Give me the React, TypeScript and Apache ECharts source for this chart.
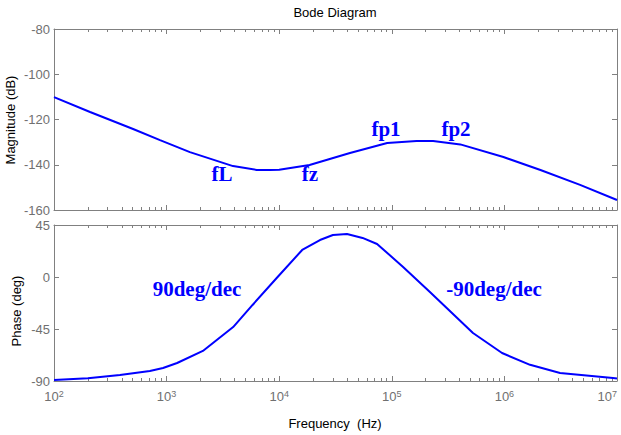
import React, { useEffect, useRef } from "react";
import * as echarts from "echarts";

// Magnitude response (frequency in Hz, magnitude in dB)
const magFreq = [100, 209, 504, 874, 1610, 3890, 6320, 8300, 10000, 18600, 42500, 91000, 166000, 233000, 406000, 980000, 2090000, 4700000, 10000000];
const magDb = [-110.1, -116.7, -124.2, -129.1, -134.4, -140.6, -142.3, -142.3, -142.2, -140.1, -134.8, -130.4, -129.5, -129.5, -131.0, -136.6, -142.3, -148.9, -155.6];

// Phase response (frequency in Hz, phase in degrees)
const phaseFreq = [100, 200, 385, 710, 930, 1240, 2100, 3900, 5800, 9500, 16000, 23000, 30000, 40000, 55000, 74000, 126000, 218000, 526000, 953000, 1690000, 3120000, 9200000, 10000000];
const phaseDeg = [-89.1, -87.7, -84.8, -81.3, -78.7, -74.4, -64, -43.3, -24.2, -0.9, 23.4, 32, 36.3, 37.2, 33.8, 28.6, 8.7, -13, -48.5, -65.8, -76, -83, -87.4, -87.8];

// Axis settings
const decadeExponents = [2, 3, 4, 5, 6, 7];
const minorMultipliers = [2, 3, 4, 5, 6, 7, 8, 9];
const magTicks = { min: -160, max: -80, interval: 20 };
const phaseTicks = { min: -90, max: 45, interval: 45 };

// Annotations
const magNotes = ["fL", "fz", "fp1", "fp2"];
const phaseNotes = ["90deg/dec", "-90deg/dec"];

const GRAY = "#808080";
const LABEL = "#707070";
const BLUE = "#0000ff";
const SANS = "'Liberation Sans', Arial, sans-serif";
const SERIF = "'Liberation Serif', 'Times New Roman', serif";

export default function App() {
  const ref = useRef<HTMLDivElement>(null);
  useEffect(() => {
    if (!ref.current) return;
    const chart = echarts.init(ref.current, null, { renderer: "svg" });

    const minorTicks: number[] = [];
    decadeExponents.slice(0, -1).forEach((n) => {
      minorMultipliers.forEach((k) => minorTicks.push(Math.log10(k) + n));
    });
    const allTicks = [...decadeExponents, ...minorTicks];

    const lineStyle = { color: GRAY, width: 1 };
    const xAxes: any[] = [];
    [0, 1].forEach((g) => {
      ["bottom", "top"].forEach((pos) => {
        xAxes.push({
          gridIndex: g,
          type: "value",
          min: 2,
          max: 7,
          position: pos,
          axisLine: { show: true, onZero: false, lineStyle },
          axisTick: { show: true, inside: true, length: 3, customValues: allTicks, lineStyle },
          axisLabel: { show: false },
          splitLine: { show: false },
        });
        const showLabels = g === 1 && pos === "bottom";
        xAxes.push({
          gridIndex: g,
          type: "value",
          min: 2,
          max: 7,
          position: pos,
          axisLine: { show: false, onZero: false },
          axisTick: { show: true, inside: true, length: 5, customValues: decadeExponents, lineStyle },
          axisLabel: {
            show: showLabels,
            customValues: decadeExponents,
            margin: 8,
            alignMaxLabel: "right",
            formatter: (v: number) => `{b|10}{e|${Math.round(v)}}`,
            rich: {
              b: { fontSize: 13, fontFamily: SANS, color: LABEL, verticalAlign: "bottom", lineHeight: 14 },
              e: { fontSize: 9, fontFamily: SANS, color: LABEL, verticalAlign: "top", lineHeight: 9, padding: [0, 0, 10, 0] },
            },
          },
          splitLine: { show: false },
        });
      });
    });

    const yAxes: any[] = [];
    [magTicks, phaseTicks].forEach((t, g) => {
      ["left", "right"].forEach((pos) => {
        yAxes.push({
          gridIndex: g,
          type: "value",
          min: t.min,
          max: t.max,
          interval: t.interval,
          position: pos,
          axisLine: { show: true, onZero: false, lineStyle },
          axisTick: { show: true, inside: true, length: 5, lineStyle },
          axisLabel: {
            show: pos === "left",
            fontSize: 13,
            fontFamily: SANS,
            color: LABEL,
            margin: 4,
          },
          splitLine: { show: false },
        });
      });
    });

    const magData = magFreq.map((f, i) => [Math.log10(f), magDb[i]]);
    const phaseData = phaseFreq.map((f, i) => [Math.log10(f), phaseDeg[i]]);

    const noteStyle = (text: string) => ({
      text,
      font: `bold 21px ${SERIF}`,
      fill: BLUE,
      textAlign: "center",
      textVerticalAlign: "bottom",
    });

    chart.setOption({
      animation: false,
      backgroundColor: "#ffffff",
      grid: [
        { left: 54, right: 4, top: 29, height: 181 },
        { left: 54, right: 4, top: 225, height: 156 },
      ],
      xAxis: xAxes,
      yAxis: yAxes,
      series: [
        {
          type: "line",
          xAxisIndex: 0,
          yAxisIndex: 0,
          data: magData,
          showSymbol: false,
          lineStyle: { color: BLUE, width: 2 },
          itemStyle: { color: BLUE },
        },
        {
          type: "line",
          xAxisIndex: 4,
          yAxisIndex: 2,
          data: phaseData,
          showSymbol: false,
          lineStyle: { color: BLUE, width: 2 },
          itemStyle: { color: BLUE },
        },
      ],
      graphic: [
        { type: "text", x: 335, y: 12, style: { text: "Bode Diagram", font: `13px ${SANS}`, fill: "#000", textAlign: "center", textVerticalAlign: "middle" } },
        { type: "text", x: 335, y: 423, style: { text: "Frequency  (Hz)", font: `13px ${SANS}`, fill: "#000", textAlign: "center", textVerticalAlign: "middle" } },
        { type: "text", x: 10, y: 120, rotation: Math.PI / 2, style: { text: "Magnitude (dB)", font: `13px ${SANS}`, fill: "#000", textAlign: "center", textVerticalAlign: "middle" } },
        { type: "text", x: 16, y: 311, rotation: Math.PI / 2, style: { text: "Phase (deg)", font: `13px ${SANS}`, fill: "#000", textAlign: "center", textVerticalAlign: "middle" } },
        { type: "text", x: 222, y: 184, style: noteStyle(magNotes[0]) },
        { type: "text", x: 310, y: 184, style: noteStyle(magNotes[1]) },
        { type: "text", x: 386, y: 139, style: noteStyle(magNotes[2]) },
        { type: "text", x: 456, y: 139, style: noteStyle(magNotes[3]) },
        { type: "text", x: 197, y: 299, style: noteStyle(phaseNotes[0]) },
        { type: "text", x: 494, y: 299, style: noteStyle(phaseNotes[1]) },
      ],
    });
    return () => chart.dispose();
  }, []);
  return (
    <div
      ref={ref}
      style={{ position: "absolute", left: 0, top: 0, width: 621, height: 435, background: "#fff" }}
    />
  );
}
